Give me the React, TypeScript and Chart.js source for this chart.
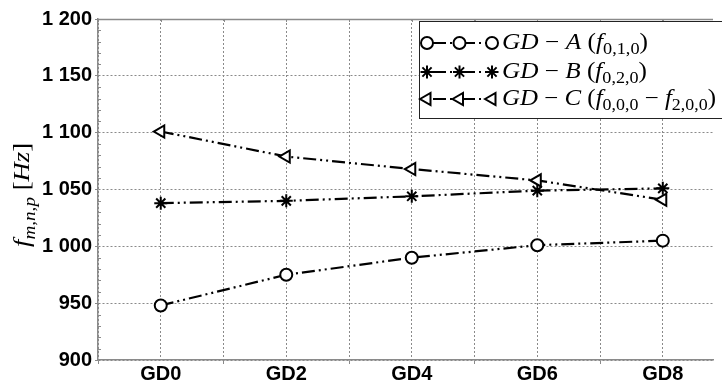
import React, { useEffect, useRef } from 'react';
import { Chart, registerables } from 'chart.js';

Chart.register(...registerables);

// ---------------- data ----------------
const categories = ['GD0', 'GD2', 'GD4', 'GD6', 'GD8'];
const gdA = [948, 975, 990, 1001, 1005];
const gdB = [1038, 1040, 1044, 1049, 1051];
const gdC = [1101, 1079, 1068, 1058, 1041];
const yMin = 900;
const yMax = 1200;
const yStep = 50;
const yMinorStep = 10;

type Part = { t: string; it?: boolean; sub?: boolean };

const legendA: Part[] = [
  { t: 'GD', it: true }, { t: ' \u2212 ' }, { t: 'A', it: true }, { t: ' (' },
  { t: 'f', it: true }, { t: '0,1,0', sub: true }, { t: ')' },
];
const legendB: Part[] = [
  { t: 'GD', it: true }, { t: ' \u2212 ' }, { t: 'B', it: true }, { t: ' (' },
  { t: 'f', it: true }, { t: '0,2,0', sub: true }, { t: ')' },
];
const legendC: Part[] = [
  { t: 'GD', it: true }, { t: ' \u2212 ' }, { t: 'C', it: true }, { t: ' (' },
  { t: 'f', it: true }, { t: '0,0,0', sub: true }, { t: ' \u2212 ' },
  { t: 'f', it: true }, { t: '2,0,0', sub: true }, { t: ')' },
];
const yTitle: Part[] = [
  { t: 'f', it: true }, { t: 'm,n,p', it: true, sub: true }, { t: ' [' },
  { t: 'Hz', it: true }, { t: ']' },
];

// ---------------- styles ----------------
const DASH = [13, 4, 2, 4, 2, 4];
const GRID = '#8a8a8a';
const AXIS = '#8a8a8a';
const SERIF = '"Liberation Serif", "Times New Roman", serif';
const SANS = '"Liberation Sans", Arial, sans-serif';

type MarkerKind = 'circle' | 'star' | 'triangle';

function drawMarker(ctx: CanvasRenderingContext2D, kind: MarkerKind, x: number, y: number) {
  ctx.save();
  ctx.setLineDash([]);
  ctx.strokeStyle = '#000';
  ctx.fillStyle = '#fff';
  ctx.lineWidth = 2;
  ctx.beginPath();
  if (kind === 'circle') {
    ctx.arc(x, y, 6, 0, Math.PI * 2);
    ctx.fill();
    ctx.stroke();
  } else if (kind === 'star') {
    const r = 6.5;
    for (let k = 0; k < 4; k++) {
      const a = (k * Math.PI) / 4;
      ctx.moveTo(x - Math.cos(a) * r, y - Math.sin(a) * r);
      ctx.lineTo(x + Math.cos(a) * r, y + Math.sin(a) * r);
    }
    ctx.stroke();
  } else {
    const r = 7;
    let rad = -Math.PI / 2;
    ctx.moveTo(x + Math.sin(rad) * r, y - Math.cos(rad) * r);
    rad += (2 * Math.PI) / 3;
    ctx.lineTo(x + Math.sin(rad) * r, y - Math.cos(rad) * r);
    rad += (2 * Math.PI) / 3;
    ctx.lineTo(x + Math.sin(rad) * r, y - Math.cos(rad) * r);
    ctx.closePath();
    ctx.fill();
    ctx.stroke();
  }
  ctx.restore();
}

function richWidth(ctx: CanvasRenderingContext2D, parts: Part[], size: number) {
  let w = 0;
  for (const p of parts) {
    const fs = p.sub ? size * 0.72 : size;
    ctx.font = `${p.it ? 'italic ' : ''}${fs}px ${SERIF}`;
    w += ctx.measureText(p.t).width;
  }
  return w;
}

// draws rich text with baseline at (x, y), stretched horizontally to targetW
function drawRich(ctx: CanvasRenderingContext2D, parts: Part[], x: number, y: number, size: number, targetW: number) {
  const natural = richWidth(ctx, parts, size);
  const sx = targetW / natural;
  ctx.save();
  ctx.translate(x, y);
  ctx.scale(sx, 1);
  let cx = 0;
  ctx.textBaseline = 'alphabetic';
  ctx.textAlign = 'left';
  ctx.fillStyle = '#000';
  for (const p of parts) {
    const fs = p.sub ? size * 0.72 : size;
    ctx.font = `${p.it ? 'italic ' : ''}${fs}px ${SERIF}`;
    ctx.fillText(p.t, cx, p.sub ? size * 0.24 : 0);
    cx += ctx.measureText(p.t).width;
  }
  ctx.restore();
}

const decorPlugin = {
  id: 'decor',
  afterDraw(chart: any) {
    const ctx: CanvasRenderingContext2D = chart.ctx;
    const { left, right, top } = chart.chartArea;
    const yScale = chart.scales.y;
    const xScale = chart.scales.x;
    ctx.save();
    // top frame line
    ctx.strokeStyle = AXIS;
    ctx.lineWidth = 1.5;
    ctx.beginPath();
    ctx.moveTo(left, top + 0.5);
    ctx.lineTo(right, top + 0.5);
    ctx.stroke();
    // minor y ticks (inward)
    ctx.lineWidth = 1;
    ctx.beginPath();
    for (let v = yMin; v <= yMax; v += yMinorStep) {
      if (v % yStep === 0) continue;
      const py = Math.round(yScale.getPixelForValue(v)) + 0.5;
      ctx.moveTo(left, py);
      ctx.lineTo(left + 3, py);
    }
    // top ticks (inward)
    for (const t of xScale.ticks) {
      const px = Math.round(xScale.getPixelForValue(t.value)) + 0.5;
      ctx.moveTo(px, top);
      ctx.lineTo(px, top + 3);
    }
    ctx.stroke();

    // y title (rotated)
    const tW = 104;
    const cy = 195;
    ctx.save();
    ctx.translate(29, cy + tW / 2);
    ctx.rotate(-Math.PI / 2);
    drawRich(ctx, yTitle, 0, 0, 23, tW);
    ctx.restore();

    // legend
    const lx = 419.5;
    const ly = 21.5;
    ctx.fillStyle = '#fff';
    ctx.fillRect(lx, ly, 740 - lx, 97);
    ctx.strokeStyle = '#222';
    ctx.lineWidth = 1;
    ctx.strokeRect(lx, ly, 740 - lx, 97);
    const rows: { parts: Part[]; kind: MarkerKind; y: number; w: number }[] = [
      { parts: legendA, kind: 'circle', y: 43, w: 146 },
      { parts: legendB, kind: 'star', y: 72, w: 145 },
      { parts: legendC, kind: 'triangle', y: 99, w: 214 },
    ];
    for (const r of rows) {
      ctx.save();
      ctx.strokeStyle = '#000';
      ctx.lineWidth = 2;
      ctx.setLineDash(DASH);
      ctx.lineDashOffset = -6;
      ctx.beginPath();
      ctx.moveTo(427, r.y);
      ctx.lineTo(492, r.y);
      ctx.stroke();
      ctx.restore();
      drawMarker(ctx, r.kind, 427, r.y);
      drawMarker(ctx, r.kind, 459.5, r.y);
      drawMarker(ctx, r.kind, 492, r.y);
      drawRich(ctx, r.parts, 502, r.y + 6, 22.5, r.w);
    }
    ctx.restore();
  },
};

function fmtThousands(v: number) {
  if (v >= 1000) {
    const th = Math.floor(v / 1000);
    const rest = String(v % 1000).padStart(3, '0');
    return `${th} ${rest}`;
  }
  return String(v);
}

function toPoints(vals: number[]) {
  return categories.map((_, i) => ({ x: i, y: vals[i] }));
}

export default function App() {
  const ref = useRef<HTMLCanvasElement | null>(null);

  useEffect(() => {
    if (!ref.current) return;
    const common = {
      borderColor: '#000',
      borderWidth: 2.2,
      borderDash: DASH,
      fill: false,
      tension: 0,
      pointBorderColor: '#000',
      pointBackgroundColor: '#fff',
      pointBorderWidth: 2,
    };
    const chart = new Chart(ref.current, {
      type: 'line',
      data: {
        datasets: [
          { ...common, label: 'GD-A', data: toPoints(gdA), pointStyle: 'circle', pointRadius: 6 },
          { ...common, label: 'GD-B', data: toPoints(gdB), pointStyle: 'star', pointRadius: 6.5 },
          { ...common, label: 'GD-C', data: toPoints(gdC), pointStyle: 'triangle', pointRotation: -90, pointRadius: 7 },
        ],
      },
      options: {
        animation: false,
        responsive: false,
        devicePixelRatio: 1,
        layout: { padding: { top: 19, left: 0, right: 0, bottom: 0 } },
        plugins: { legend: { display: false }, tooltip: { enabled: false } },
        scales: {
          x: {
            type: 'linear',
            min: -0.5,
            max: 4.4,
            afterFit: (s: any) => { s.height = 25; },
            afterBuildTicks: (s: any) => {
              const t = [];
              for (let v = -0.5; v <= 4.001; v += 0.5) t.push({ value: v });
              s.ticks = t;
            },
            ticks: {
              padding: 0,
              color: '#000',
              maxRotation: 0,
              autoSkip: false,
              font: { family: SANS, size: 20, weight: 'bold', lineHeight: 1 },
              callback: (v: any) => (Number.isInteger(v) && v >= 0 ? categories[v] : ''),
            },
            grid: {
              color: GRID,
              lineWidth: 1,
              tickLength: 4,
              tickColor: (c: any) => (c.tick && Number.isInteger(c.tick.value) ? 'rgba(0,0,0,0)' : GRID),
            },
            border: { display: true, color: AXIS, width: 1.5, dash: [2, 2] },
          },
          y: {
            type: 'linear',
            min: yMin,
            max: yMax,
            afterFit: (s: any) => { s.width = 98; },
            ticks: {
              stepSize: yStep,
              padding: 3,
              color: '#000',
              font: { family: SANS, size: 20, weight: 'bold' },
              callback: (v: any) => fmtThousands(Number(v)),
            },
            grid: { color: GRID, lineWidth: 1, tickLength: 3 },
            border: { display: true, color: AXIS, width: 1.5, dash: [2, 2] },
          },
        },
      },
      plugins: [decorPlugin],
    } as any);
    return () => chart.destroy();
  }, []);

  return (
    <div style={{ position: 'absolute', left: 0, top: 0, width: 722, height: 385, background: '#fff' }}>
      <canvas ref={ref} width={722} height={385} style={{ display: 'block' }} />
    </div>
  );
}
